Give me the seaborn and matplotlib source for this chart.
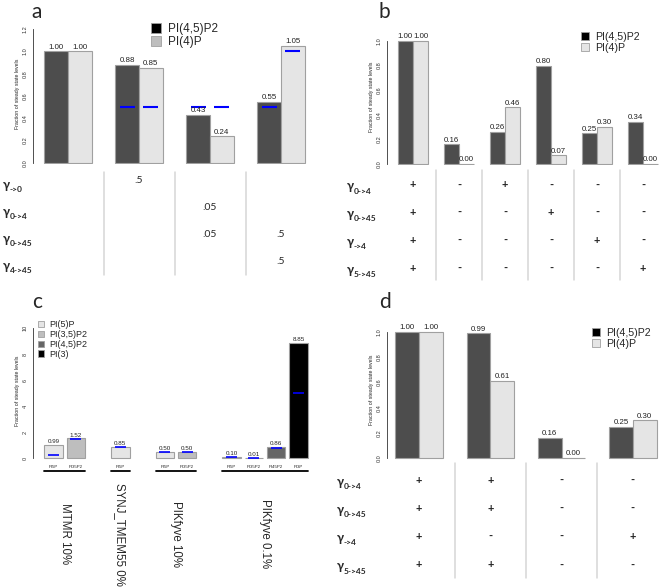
import numpy as np
import pandas as pd
import matplotlib
matplotlib.use("Agg")
import matplotlib.pyplot as plt
import seaborn as sns
from matplotlib.patches import Patch
from matplotlib.transforms import blended_transform_factory

# ---- data ----
pi45_a = [1.00, 0.88, 0.43, 0.55]
pi4_a = [1.00, 0.85, 0.24, 1.05]
blue45_a = [np.nan, 0.5, 0.5, 0.5]
blue4_a = [np.nan, 0.5, 0.5, 1.0]
rows_a = ["->0", "0->4", "0->45", "4->45"]
table_a = [["", ".5", "", ""],
           ["", "", ".05", ""],
           ["", "", ".05", ".5"],
           ["", "", "", ".5"]]

pi45_b = [1.00, 0.16, 0.26, 0.80, 0.25, 0.34]
pi4_b = [1.00, 0.00, 0.46, 0.07, 0.30, 0.00]
rows_b = ["0->4", "0->45", "->4", "5->45"]
table_b = [["+", "-", "+", "-", "-", "-"],
           ["+", "-", "-", "+", "-", "-"],
           ["+", "-", "-", "-", "+", "-"],
           ["+", "-", "-", "-", "-", "+"]]

conditions_c = ["MTMR 10%", "SYNJ_TMEM55 0%", "PIKfyve 10%", "PIKfyve 0.1%"]
species_c = ["PI(5)P", "PI(3,5)P2", "PI(4,5)P2", "PI(3)"]
short_c = {"PI(5)P": "PI5P", "PI(3,5)P2": "PI35P2", "PI(4,5)P2": "PI45P2", "PI(3)": "PI3P"}
bars_c = [["PI(5)P", "PI(3,5)P2"],
          ["PI(5)P"],
          ["PI(5)P", "PI(3,5)P2"],
          ["PI(5)P", "PI(3,5)P2", "PI(4,5)P2", "PI(3)"]]
values_c = [[0.99, 1.52], [0.85], [0.50, 0.50], [0.10, 0.01, 0.86, 8.85]]
blue_c = [[0.2, 1.5], [0.85], [0.5, 0.5], [0.1, 0.03, 0.8, 5.0]]

pi45_d = [1.00, 0.99, 0.16, 0.25]
pi4_d = [1.00, 0.61, 0.00, 0.30]
rows_d = ["0->4", "0->45", "->4", "5->45"]
table_d = [["+", "+", "-", "-"],
           ["+", "+", "-", "-"],
           ["+", "-", "-", "+"],
           ["+", "+", "-", "-"]]

DARK, LIGHT, MID, EDGE = "#4d4d4d", "#e5e5e5", "#bebebe", "#a0a0a0"
colors_c = ["#e5e5e5", "#bebebe", "#666666", "#000000"]
CAL = ["Lato", "Open Sans", "DejaVu Sans"]

sns.set_style("white")
plt.rcParams["font.family"] = ["Liberation Sans", "DejaVu Sans"]

W, H = 660, 588
fig = plt.figure(figsize=(6.6, 5.88), dpi=100)


def px_axes(left, right, top, bottom):
    return fig.add_axes([left / W, 1 - bottom / H, (right - left) / W, (bottom - top) / H])


def set_limits(ax, left, right, x0, xunit, ylo, yhi):
    ax.set_xlim((left - x0) / xunit, (right - x0) / xunit)
    ax.set_ylim(ylo, yhi)


def style_r(ax, ticks, fmt):
    sns.despine(ax=ax, bottom=True)
    ax.spines["left"].set_bounds(ticks[0], ticks[-1])
    ax.spines["left"].set_linewidth(0.6)
    ax.spines["left"].set_color("#333333")
    ax.set_yticks(ticks)
    ax.set_yticklabels([fmt % t for t in ticks], rotation=90, va="center", fontsize=4)
    ax.tick_params(axis="y", length=2.5, width=0.5, pad=1.5, colors="#333333")
    ax.set_xlabel("")
    ax.set_ylabel("Fraction of steady state levels", fontsize=3.8, labelpad=2)


def square_legend(ax, labels, colors, x, y, fontsize, size):
    handles = [Patch(facecolor=c, edgecolor=EDGE, lw=0.6) for c in colors]
    ax.legend(handles, labels, loc="upper left", bbox_to_anchor=(x / W, 1 - y / H),
              bbox_transform=fig.transFigure, frameon=False, fontsize=fontsize,
              handlelength=size, handleheight=size, handletextpad=0.6,
              labelspacing=0.1, borderpad=0, borderaxespad=0)


def paired_panel(left, right, x0, xunit, y0, yunit, yhi, pi45, pi4, blues, ticks):
    ax = px_axes(left, right, y0 - yhi * yunit, y0 + 0.012 * yunit)
    df = pd.DataFrame({"group": list(range(len(pi45))) * 2,
                       "species": ["PI(4,5)P2"] * len(pi45) + ["PI(4)P"] * len(pi4),
                       "value": pi45 + pi4})
    sns.barplot(data=df, x="group", y="value", hue="species", palette=[DARK, LIGHT],
                width=2 / 3, gap=0, errorbar=None, edgecolor=EDGE, linewidth=0.8,
                legend=False, ax=ax)
    for k, cont in enumerate(ax.containers):
        if blues is not None:
            for patch, b in zip(cont, blues[k]):
                if np.isnan(b):
                    continue
                x, w = patch.get_x(), patch.get_width()
                ax.hlines(b, x + 0.18 * w, x + 0.82 * w, color="blue", lw=1.5, zorder=3)
        ax.bar_label(cont, fmt="%.2f", fontsize=5.7, padding=0.5, color="#222222")
    set_limits(ax, left, right, x0, xunit, -0.012, yhi)
    ax.set_xticks([])
    style_r(ax, ticks, "%.1f")
    return ax


def draw_table(ax_bar, left, right, top, bottom, rows, table, label_x, line_top, line_bottom):
    ax = px_axes(left, right, top, bottom)
    ax.set_xlim(ax_bar.get_xlim())
    n = len(rows)
    ax.set_ylim(n, 0)
    ax.axis("off")
    y1 = (line_top - top) / (bottom - top) * n
    y2 = (line_bottom - top) / (bottom - top) * n
    for k in range(len(table[0]) - 1):
        ax.plot([k + 0.5, k + 0.5], [y1, y2], color="#d6d6d6", lw=1.1, clip_on=False)
    trans = blended_transform_factory(fig.transFigure, ax.transData)
    for r, (sub, cells) in enumerate(zip(rows, table)):
        g = ax.text(label_x / W, r + 0.55, "γ", transform=trans, fontsize=9,
                    fontweight="bold", family=CAL, ha="left", va="center")
        ax.annotate(sub, xy=(1.0, 0.1), xycoords=g, fontsize=6, fontweight="bold",
                    family=CAL, ha="left", va="center")
        for c, val in enumerate(cells):
            if val in ("+", "-"):
                ax.text(c, r + 0.5, val, ha="center", va="center", fontsize=8,
                        fontweight="bold", family=CAL)
            elif val:
                ax.text(c, r + 0.4, val, ha="center", va="center", fontsize=7.5, family=CAL)
    return ax


# ---- panel a ----
ax_a = paired_panel(33, 316, 68, 71, 163, 111.67, 1.25, pi45_a, pi4_a,
                    [blue45_a, blue4_a], [0, 0.2, 0.4, 0.6, 0.8, 1.0, 1.2])
square_legend(ax_a, ["PI(4,5)P2", "PI(4)P"], ["black", MID], 151, 23, 8.5, 0.85)
draw_table(ax_a, 33, 316, 170, 278, rows_a, table_a, 3, 172, 275)

# ---- panel b ----
ax_b = paired_panel(387, 660, 413, 46, 164, 123, 1.1, pi45_b, pi4_b,
                    None, [0, 0.2, 0.4, 0.6, 0.8, 1.0])
square_legend(ax_b, ["PI(4,5)P2", "PI(4)P"], ["black", LIGHT], 581, 32, 7.7, 0.75)
draw_table(ax_b, 387, 660, 171, 282, rows_b, table_b, 347, 170, 280)

# ---- panel c ----
rows = []
pos = 0
for cond, sp_list, vals, blues in zip(conditions_c, bars_c, values_c, blue_c):
    for sp, v, b in zip(sp_list, vals, blues):
        rows.append({"pos": pos, "cond": cond, "species": sp, "value": v, "blue": b,
                     "short": short_c[sp]})
        pos += 1
    pos += 1
df_c = pd.DataFrame(rows)

c_left, c_right, c_x0, c_unit, c_y0, c_yunit, c_hi = 33, 320, 53.5, 22.27, 458, 13, 10.5
ax_c = px_axes(c_left, c_right, c_y0 - c_hi * c_yunit, c_y0 + 0.12 * c_yunit)
bw = 0.83
sns.barplot(data=df_c, x="pos", y="value", hue="species", hue_order=species_c,
            palette=colors_c, native_scale=True, dodge=False, width=bw, errorbar=None,
            edgecolor=EDGE, linewidth=0.8, legend=False, ax=ax_c)
for cont in ax_c.containers:
    ax_c.bar_label(cont, fmt="%.2f", fontsize=4.5, padding=0.5, color="#222222")
for _, r in df_c.iterrows():
    ax_c.hlines(r["blue"], r["pos"] - 0.3 * bw, r["pos"] + 0.3 * bw, color="blue", lw=1.2, zorder=3)
set_limits(ax_c, c_left, c_right, c_x0, c_unit, -0.12, c_hi)
style_r(ax_c, [0, 2, 4, 6, 8, 10], "%d")
ax_c.set_xticks(df_c["pos"], df_c["short"], fontsize=3.2)
ax_c.tick_params(axis="x", length=0, pad=4)
square_legend(ax_c, species_c, colors_c, 38, 320, 6.5, 0.67)
tc = blended_transform_factory(ax_c.transData, fig.transFigure)
for cond, grp in df_c.groupby("cond", sort=False):
    x1, x2 = grp["pos"].min() - bw / 2, grp["pos"].max() + bw / 2
    ax_c.plot([x1, x2], [1 - 471 / H] * 2, color="black", lw=1.3, transform=tc, clip_on=False)
    ax_c.text((x1 + x2) / 2, 1 - 534 / H, cond, rotation=270, ha="center", va="center",
              fontsize=8.3, transform=tc)

# ---- panel d ----
ax_d = paired_panel(387, 660, 419, 71.3, 458, 126, 1.1, pi45_d, pi4_d,
                    None, [0, 0.2, 0.4, 0.6, 0.8, 1.0])
square_legend(ax_d, ["PI(4,5)P2", "PI(4)P"], ["black", LIGHT], 592, 328, 7.7, 0.75)
draw_table(ax_d, 387, 660, 466, 579, rows_d, table_d, 337, 463, 578)

# panel letters
for letter, x, y in [("a", 31, 18), ("b", 379, 18), ("c", 32, 308), ("d", 379, 308)]:
    fig.text(x / W, 1 - y / H, letter, fontsize=15, family=CAL, va="baseline", ha="left")

fig.savefig("out.png", dpi=100)
